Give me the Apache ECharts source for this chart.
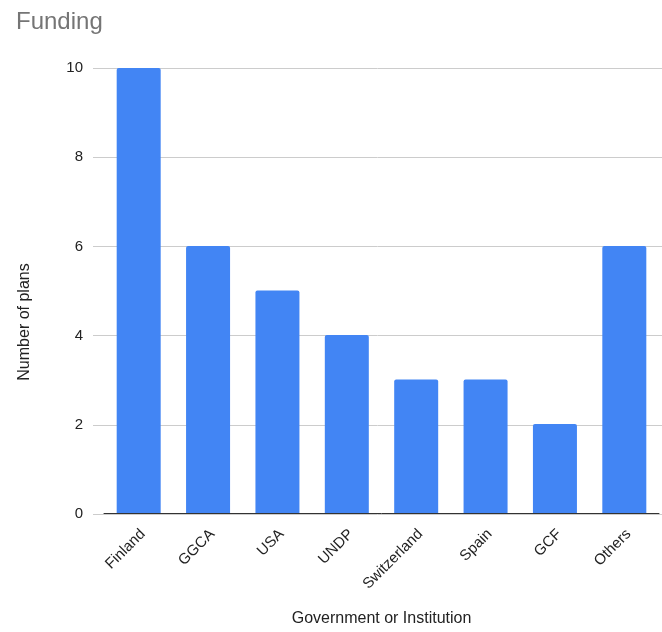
<!DOCTYPE html>
<html><head><meta charset="utf-8">
<script src="https://cdn.jsdelivr.net/npm/echarts@6/dist/echarts.min.js"></script>
<style>html,body{margin:0;padding:0;background:#fff}#c{width:662px;height:632px}</style>
</head><body><div id="c"></div>
<script>
const categories = ["Finland","GGCA","USA","UNDP","Switzerland","Spain","GCF","Others"];
const plans = [10,6,5,4,3,3,2,6];
const yTicks = {min:0, max:10, interval:2};

const FONT = '"Liberation Sans", Arial, sans-serif';
const chart = echarts.init(document.getElementById('c'));
chart.setOption({
  animation:false,
  title:{text:'Funding', left:11, top:5, textStyle:{fontFamily:FONT, fontSize:24, fontWeight:'normal', color:'#757575'}},
  grid:[
    {left:93, right:0, top:68, bottom:118},
    {left:104, right:3, top:68, bottom:118}
  ],
  xAxis:[
    {type:'category', gridIndex:0, data:categories, show:false},
    {type:'category', gridIndex:1, data:categories,
     name:'Government or Institution', nameLocation:'middle', nameGap:98,
     nameTextStyle:{fontFamily:FONT, fontSize:16, color:'#222'},
     axisLine:{lineStyle:{color:'#333', width:1}}, axisTick:{show:false},
     axisLabel:{rotate:45, fontFamily:FONT, fontSize:15, color:'#222', margin:23, interval:0, padding:[0,-6,0,0]}}
  ],
  yAxis:[
    {type:'value', gridIndex:0, min:yTicks.min, max:yTicks.max, interval:yTicks.interval,
     axisLine:{show:false}, axisTick:{show:false},
     axisLabel:{fontFamily:FONT, fontSize:15, color:'#222', margin:10},
     splitLine:{lineStyle:{color:'#cccccc'}},
     name:'Number of plans', nameLocation:'middle', nameGap:60, nameRotate:90,
     nameTextStyle:{fontFamily:FONT, fontSize:16, color:'#222', padding:[0,62,0,0]}},
    {type:'value', gridIndex:1, min:yTicks.min, max:yTicks.max, interval:yTicks.interval, show:false, splitLine:{show:false}}
  ],
  series:[{
    type:'bar', xAxisIndex:1, yAxisIndex:1, data:plans, barWidth:44,
    itemStyle:{color:'#4285F4', borderRadius:[2,2,0,0]}
  }]
});
</script></body></html>
